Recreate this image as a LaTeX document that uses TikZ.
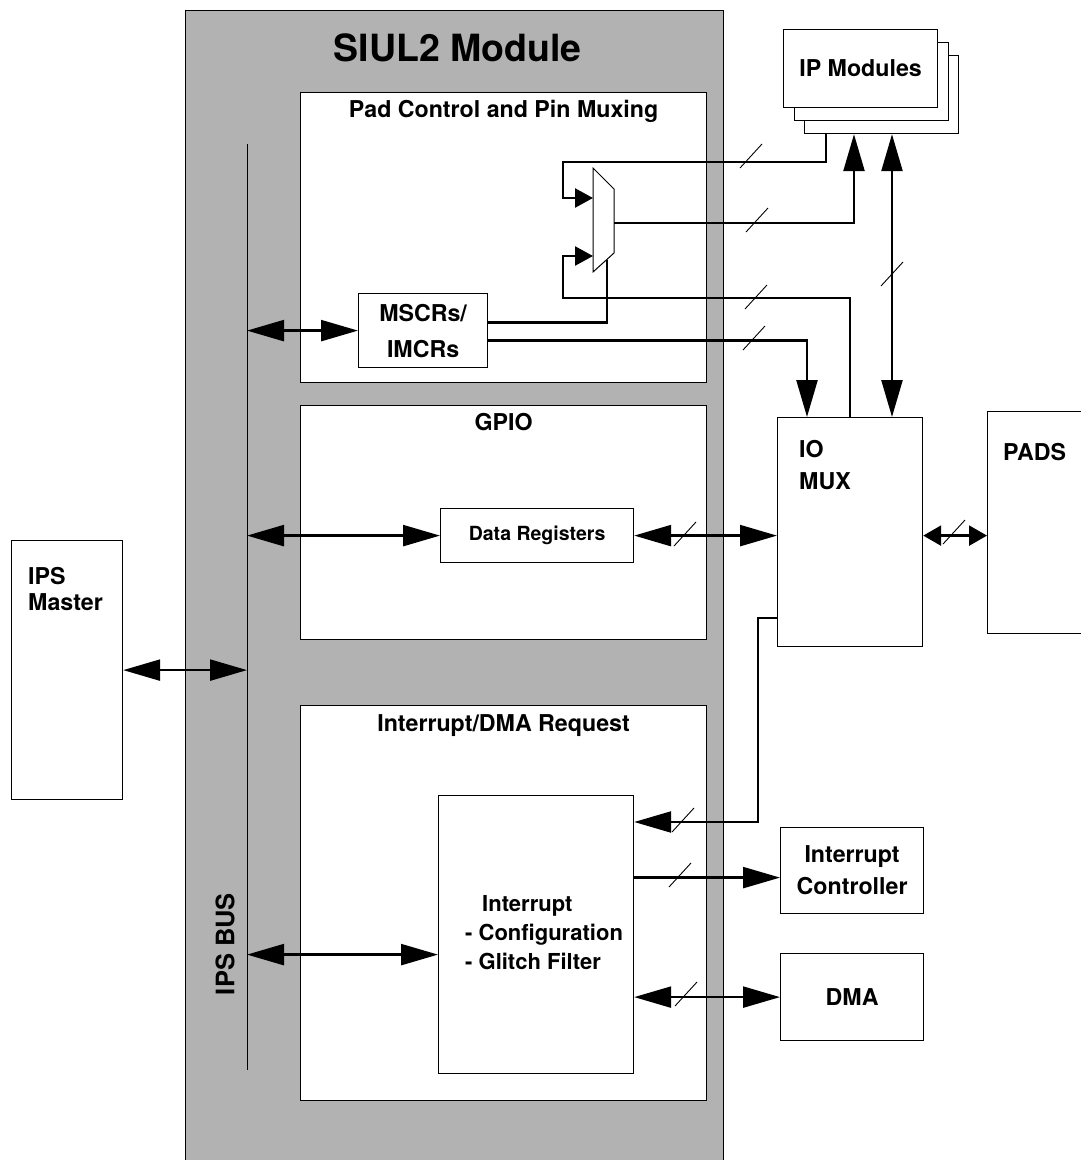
\documentclass[tikz,border=0pt]{standalone}
\usepackage{fontspec}
\setmainfont{TeX Gyre Heros}
\usepackage{tikz}
\usetikzlibrary{arrows.meta,positioning}
\tikzstyle{box}=[draw, line width=1.2pt, fill=white, inner sep=0pt, anchor=north west]
\tikzstyle{heading}=[inner sep=0pt, anchor=north]
\tikzstyle{wire}=[draw, line width=2.4pt]
\tikzstyle{arrow}=[draw, line width=2.4pt, -{Triangle[length=37pt,width=21pt]}]
\tikzstyle{muxarrow}=[draw, line width=2.4pt, -{Triangle[length=18pt,width=19pt]}]
\tikzstyle{dblarrow}=[draw, line width=2.4pt, {Triangle[length=37pt,width=21pt]}-{Triangle[length=37pt,width=21pt]}]
\tikzstyle{smallarrow}=[draw, line width=2.4pt, {Triangle[length=18pt,width=20pt]}-{Triangle[length=18pt,width=20pt]}]
\tikzstyle{slash}=[draw, line width=0.9pt]

\begin{document}
\begin{tikzpicture}[
                x=1pt, y=-1pt,
                every node/.style={font=\bfseries\fontsize{23.2}{30}\selectfont}
            ]
                \useasboundingbox (0,0) rectangle (1081,1160);

                % SIUL2 block and its parts
                \node (siul) [box, fill=black!30, minimum width=538pt, minimum height=1170pt] at (185,10) {};
                \node [heading, below=24pt of siul.north, xshift=3pt, font=\bfseries\fontsize{37.5}{37.5}\selectfont] {SIUL2 Module};

                \node (pad) [box, minimum width=406pt, minimum height=290pt] at (300,92) {};
                \node [heading, below=8pt of pad.north] {Pad Control and Pin Muxing};
                \node (gpio) [box, minimum width=406pt, minimum height=234pt] at (300,405) {};
                \node [heading, below=8pt of gpio.north] {GPIO};
                \node (intr) [box, minimum width=406pt, minimum height=395pt] at (300,705) {};
                \node [heading, below=9pt of intr.north] {Interrupt/DMA Request};

                \node (mscr) [box, align=center, minimum width=129pt, minimum height=74pt, font=\bfseries\fontsize{23.2}{36}\selectfont] at (358,293) {MSCRs/\\IMCRs};
                \node (datareg) [box, minimum width=193pt, minimum height=54pt, font=\bfseries\fontsize{19.5}{22}\selectfont] at (440,508) {Data Registers};
                \node (intcfg) [box, minimum width=195pt, minimum height=278pt] at (438,795) {};
                \node [below right=100pt and 27pt of intcfg.north west, inner sep=0pt, align=left, font=\bfseries\fontsize{22}{29}\selectfont] {\hspace*{17pt}Interrupt\\- Configuration\\- Glitch Filter};

                % IPS bus
                \draw[line width=1pt] (247,144) coordinate (bustop) -- (247,1070) coordinate (busbot);
                \node (buslabel) [rotate=90, inner sep=0pt, font=\bfseries\fontsize{25.5}{25.5}\selectfont] at (225,944) {IPS BUS};

                % outside blocks
                \node (master) [box, minimum width=111pt, minimum height=259pt] at (11,540) {};
                \node [below right=27pt and 17pt of master.north west, inner sep=0pt, align=left, font=\bfseries\fontsize{23.2}{26}\selectfont] {IPS\\Master};

                \node (ip3) [box, minimum width=154pt, minimum height=78pt] at (804,55) {};
                \node (ip2) [box, minimum width=154pt, minimum height=78pt] at (794,42) {};
                \node (ip1) [box, minimum width=154pt, minimum height=78pt] at (783,29) {IP Modules};

                \node (iomux) [box, minimum width=145pt, minimum height=229pt] at (777,417) {};
                \node [below right=23pt and 22pt of iomux.north west, inner sep=0pt, align=left, font=\bfseries\fontsize{23.2}{32}\selectfont] {IO\\MUX};

                \node (pads) [box, minimum width=130pt, minimum height=222pt] at (987,411) {};
                \node [below right=32pt and 16pt of pads.north west, inner sep=0pt] {PADS};

                \node (intctl) [box, align=center, minimum width=143pt, minimum height=86pt, font=\bfseries\fontsize{23.2}{32}\selectfont] at (780,827) {Interrupt\\Controller};
                \node (dma) [box, minimum width=143pt, minimum height=87pt] at (780,953) {DMA};

                % pin mux
                \draw[line width=1pt, fill=white] (593,168) -- (614,189) -- (614,253) -- (593,272) -- cycle;
                \coordinate (muxin1) at (593,198);
                \coordinate (muxin2) at (593,256);
                \coordinate (muxout) at (614,223);
                \coordinate (muxsel) at (607,260);

                % Draw Arrows
                \draw[dblarrow] (master.east) -- (master.east -| bustop);
                \draw[dblarrow] (mscr.west -| bustop) -- (mscr.west);
                \draw[dblarrow] (datareg.west -| bustop) -- (datareg.west);
                \coordinate (cfgin) at ([yshift=-20pt]intcfg.west);
                \draw[dblarrow] (cfgin -| bustop) -- (cfgin);

                \draw[wire] ([yshift=8pt]mscr.east) -| (muxsel);
                \draw[arrow] ([yshift=-10pt]mscr.east) -| ([xshift=30pt]iomux.north west);
                \draw[muxarrow] ([xshift=22pt]ip3.south west) -- ++(0,28) -| ([xshift=-30pt]muxin1) -- (muxin1);
                \draw[muxarrow] ([xshift=73pt]iomux.north west) -- ++(0,-119) -| ([xshift=-30pt]muxin2) -- (muxin2);
                \draw[arrow] (muxout) -| ([xshift=50pt]ip3.south west);
                \coordinate (ipio) at ([xshift=88pt]ip3.south west);
                \draw[dblarrow] (ipio) -- (ipio |- iomux.north);

                \draw[dblarrow] (datareg.east) -- (datareg.east -| iomux.west);
                \draw[smallarrow] (datareg.east -| iomux.east) -- (datareg.east -| pads.west);

                \draw[arrow] ([yshift=-86pt]iomux.west) -- ++(-19,0) |- ([yshift=-27pt]intcfg.north east);
                \coordinate (ctlin) at ([yshift=-7pt]intctl.west);
                \draw[arrow] (ctlin -| intcfg.east) -- (ctlin);
                \draw[dblarrow] (dma.west -| intcfg.east) -- (dma.west);

                % bus width marks
                \foreach \sx/\sy in {751/156, 757/220, 756/297, 754/338, 892/274, 685/534, 954/532, 683/820, 680/875, 686/994}
                    \draw[slash] (\sx,\sy) ++(-11,12) -- ++(22,-24);

            \end{tikzpicture}
\end{document}
